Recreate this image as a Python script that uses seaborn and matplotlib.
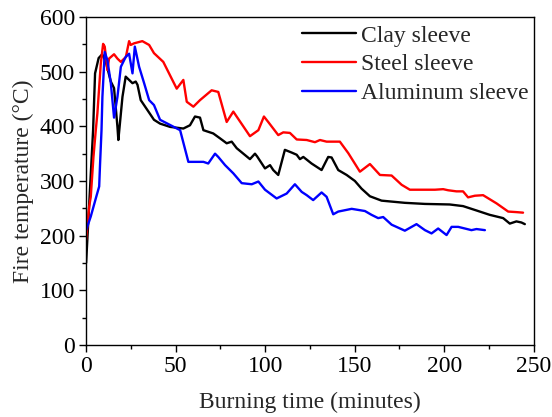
import pandas as pd
import seaborn as sns
import matplotlib.pyplot as plt
from matplotlib.ticker import MultipleLocator

# Clay sleeve
clay_t = [0, 3.9, 5, 7, 9, 11, 13.8, 15.6, 17.5, 18, 20.3, 22.1, 24, 25.9, 27.7, 28.7,
          30.5, 34.2, 37.9, 41.3, 46.9, 54.3, 58, 60.8, 63.6, 65.5, 71, 74.8, 78.5,
          81.3, 84.1, 91.5, 94.3, 95.5, 99.9, 102.7, 104.5, 107.3, 111, 114.8, 117.6,
          119.4, 121.3, 125.9, 131.5, 135.2, 137.1, 140.8, 145.5, 150.1, 153.8, 158.5,
          165, 178, 189.2, 203, 210.5, 218, 225.4, 232.9, 236.6, 240.3, 243.1, 245]
clay_temp = [150, 393, 497, 525, 532, 518, 482, 470, 399, 375, 454, 491, 485, 479, 482, 476,
             448, 430, 412, 405, 399, 396, 402, 418, 416, 393, 387, 378, 369,
             372, 360, 340, 350, 345, 323, 329, 320, 311, 357, 352, 348,
             340, 344, 332, 320, 344, 343, 320, 311, 300, 286, 272,
             264, 260, 258, 257, 254, 246, 238, 232, 222, 226, 224, 221]

# Steel sleeve
steel_t = [0, 1.7, 2.6, 4.1, 5.4, 6.3, 8.2, 9.5, 10.4, 11.9, 12.8, 15.6, 17.5, 19.4, 22.2,
           24, 24.9, 26.8, 31.4, 35.2, 37.9, 43.1, 50.6, 54.3, 56.2, 59.9, 63.6, 70.1,
           73.8, 78.5, 82.2, 91.5, 96.2, 99.3, 101.7, 107.3, 110.1, 113.8, 117.6, 123.2,
           127.8, 130.6, 134.3, 141.7, 146.4, 152.9, 158.5, 164.1, 170.6, 176.2, 180.8,
           187.3, 194.8, 199.4, 202.2, 206.8, 210.5, 213.3, 217.1, 221.7, 229.2, 235.7,
           240.3, 244]
steel_temp = [192, 253, 271, 344, 393, 424, 515, 551, 546, 503, 524, 532, 524, 518, 527,
              556, 549, 552, 556, 549, 534, 518, 469, 485, 445, 436, 448, 466,
              463, 408, 427, 382, 393, 418, 408, 384, 389, 388, 376, 375,
              371, 375, 372, 372, 351, 317, 331, 311, 310, 293, 284,
              284, 284, 285, 283, 281, 281, 270, 273, 274, 259, 244,
              243, 242]

# Aluminum sleeve
alu_t = [0, 2.6, 5.4, 7.3, 7.8, 8.6, 9.1, 10.4, 11.9, 13.8, 15.6, 17.5, 19.4, 22.1, 24,
         25.9, 27.2, 29.6, 32.4, 35.2, 37.9, 41.3, 52.5, 57.1, 63.6, 65.5, 68.2, 72,
         73.8, 77.6, 82.2, 86.9, 92.5, 96.2, 99.9, 106.4, 112, 116.6, 120.4, 123.2,
         126.8, 131.5, 134.3, 138, 140.8, 148.3, 155.7, 159.4, 163.1, 165.9, 170.6,
         178, 184.5, 189.2, 192.9, 196.6, 201.3, 204.1, 207.8, 211.5, 215.2, 218, 222.7]
alu_temp = [210, 235, 268, 290, 332, 393, 454, 536, 521, 479, 416, 454, 509, 527, 533,
            497, 546, 509, 479, 448, 439, 412, 393, 335, 335, 335, 332, 350,
            344, 329, 314, 296, 294, 299, 284, 268, 277, 294, 280, 274,
            265, 279, 271, 239, 244, 249, 245, 238, 232, 234, 220,
            209, 221, 210, 204, 213, 201, 216, 216, 213, 210, 212, 210]

series_names = ["Clay sleeve", "Steel sleeve", "Aluminum sleeve"]
colors = ["black", "red", "blue"]

df = pd.concat([
    pd.DataFrame({"time": clay_t, "temp": clay_temp, "sleeve": series_names[0]}),
    pd.DataFrame({"time": steel_t, "temp": steel_temp, "sleeve": series_names[1]}),
    pd.DataFrame({"time": alu_t, "temp": alu_temp, "sleeve": series_names[2]}),
], ignore_index=True)

sns.set_style("ticks")
plt.rcParams["font.family"] = ["Liberation Serif", "DejaVu Serif"]

fig = plt.figure(figsize=(5.52, 4.17), dpi=100)
ax = fig.add_axes([0.156, 0.173, 0.811, 0.786])

sns.lineplot(
    data=df, x="time", y="temp", hue="sleeve",
    palette=dict(zip(series_names, colors)),
    estimator=None, sort=False, linewidth=1.7, ax=ax
)

ax.set_xlim(0, 250)
ax.set_ylim(0, 600)
ax.xaxis.set_major_locator(MultipleLocator(50))
ax.xaxis.set_minor_locator(MultipleLocator(25))
ax.yaxis.set_major_locator(MultipleLocator(100))
ax.yaxis.set_minor_locator(MultipleLocator(50))
ax.tick_params(which="both", direction="out", labelsize=17, width=1, colors="black")
ax.tick_params(which="major", length=5, pad=3)
ax.tick_params(which="minor", length=3)
for s in ax.spines.values():
    s.set_visible(True)
    s.set_linewidth(1)
    s.set_color("black")

ax.set_xlabel("Burning time (minutes)", fontsize=17, labelpad=11)
ax.set_ylabel("Fire temperature (°C)", fontsize=17, labelpad=4)

ax.legend(title=None, frameon=False, fontsize=17, loc="upper right",
          handlelength=2.3, handletextpad=0.22, labelspacing=0.3,
          borderpad=0.2, borderaxespad=0.0, bbox_to_anchor=(1.0, 0.99))

plt.savefig("out.png", dpi=100)
plt.close()
